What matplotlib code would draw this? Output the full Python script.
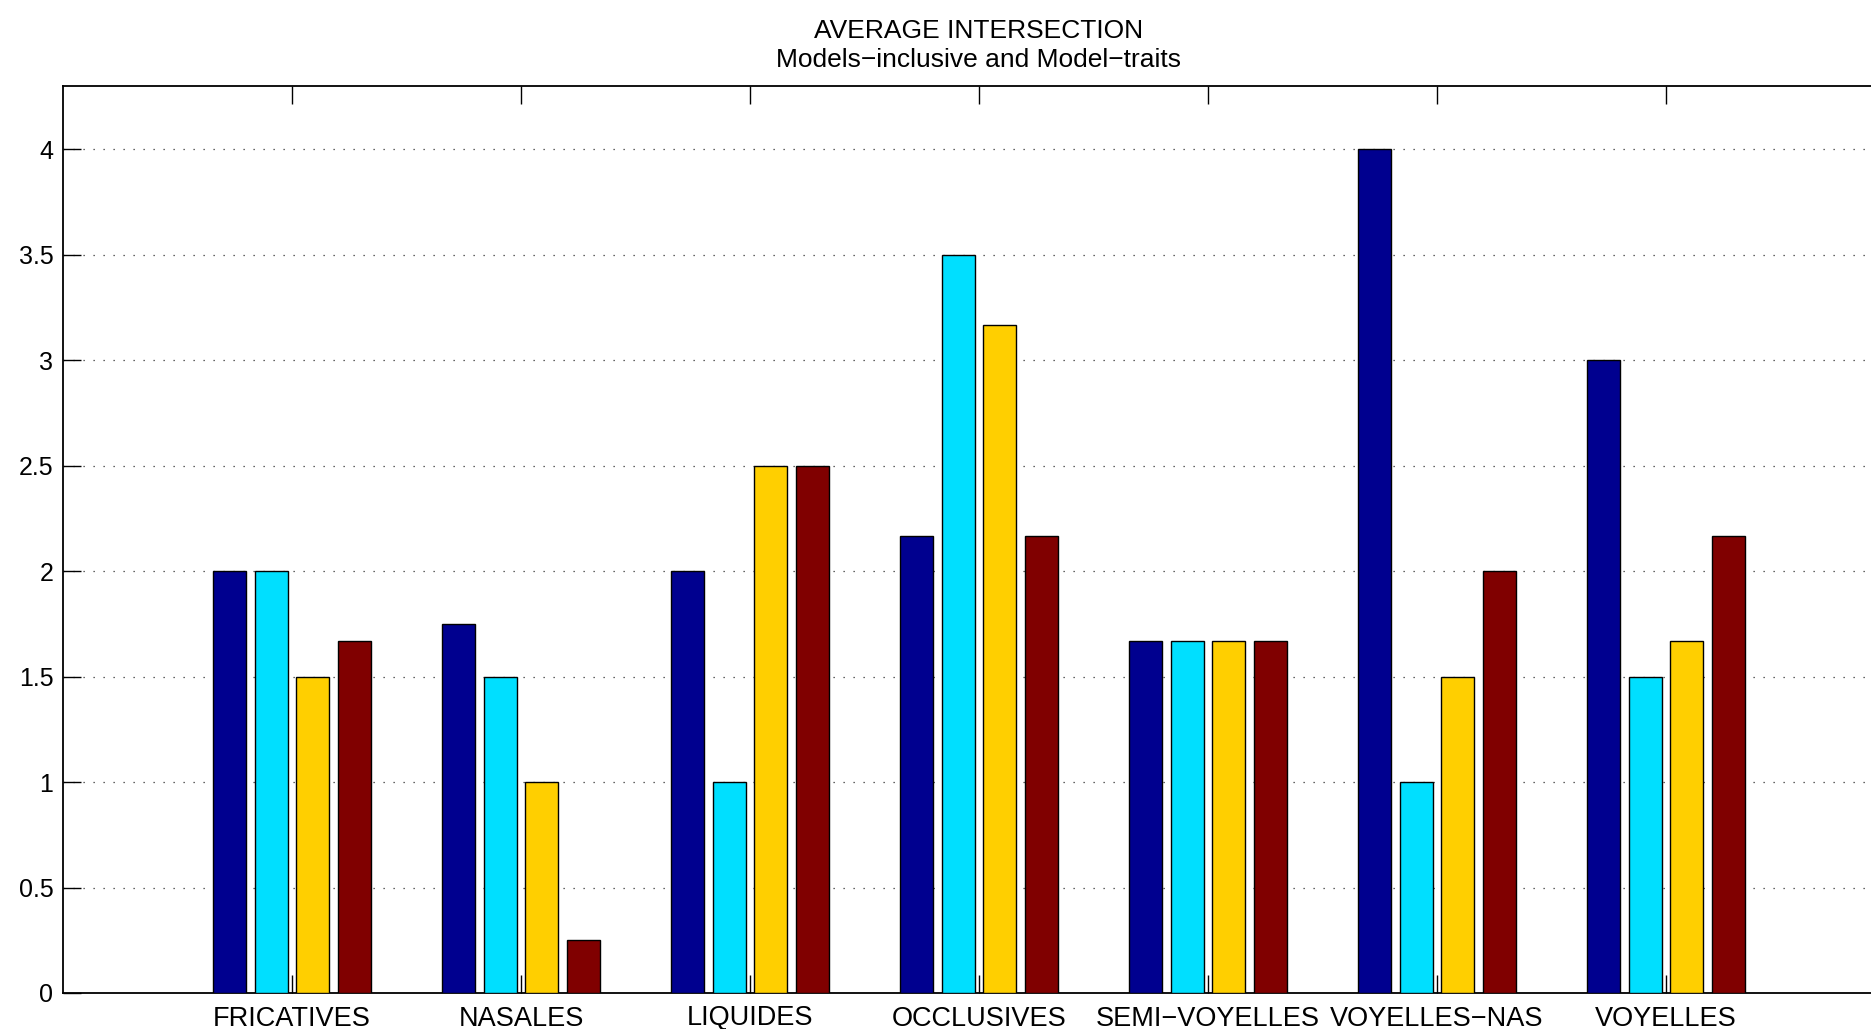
import numpy as np
import matplotlib
matplotlib.use("Agg")
import matplotlib.pyplot as plt

plt.rcParams['font.family'] = ['Liberation Sans', 'DejaVu Sans']

categories = ["FRICATIVES", "NASALES", "LIQUIDES", "OCCLUSIVES",
              "SEMI\u2212VOYELLES", "VOYELLES\u2212NAS", "VOYELLES"]
series_1 = [2.0, 1.75, 2.0, 2.1667, 1.6667, 4.0, 3.0]
series_2 = [2.0, 1.5, 1.0, 3.5, 1.6667, 1.0, 1.5]
series_3 = [1.5, 1.0, 2.5, 3.1667, 1.6667, 1.5, 1.6667]
series_4 = [1.6667, 0.25, 2.5, 2.1667, 1.6667, 2.0, 2.1667]
yticks = [0, 0.5, 1, 1.5, 2, 2.5, 3, 3.5, 4]
ytick_labels = ["0", "0.5", "1", "1.5", "2", "2.5", "3", "3.5", "4"]

colors = [(0.0, 0.0, 0.5625), (0.0, 0.875, 1.0), (1.0, 0.8125, 0.0), (0.5, 0.0, 0.0)]

fig = plt.figure(figsize=(18.71, 10.29), dpi=100)
ax = fig.add_axes([63 / 1871, 1 - 993 / 1029, 1832 / 1871, (993 - 86) / 1029])

x = np.arange(1, len(categories) + 1)
series = [series_1, series_2, series_3, series_4]
n = len(series)
group_width = min(0.8, n / (n + 1.5))
pitch = group_width / n
bar_w = 0.8 * pitch
for i, (vals, c) in enumerate(zip(series, colors)):
    offs = (i - (n - 1) / 2) * pitch
    ax.bar(x + offs, vals, width=bar_w, color=c, edgecolor='black',
           linewidth=1.0, zorder=3)

ax.set_xlim(0, 8)
ax.set_ylim(0, 4.3)
ax.set_xticks(x)
ax.set_xticklabels(categories, fontsize=19.5)
ax.set_yticks(yticks)
ax.set_yticklabels(ytick_labels, fontsize=18)

ax.yaxis.grid(True, linestyle=(0, (1, 7)), color='#333333', linewidth=0.9, zorder=0)
ax.tick_params(axis='x', direction='in', length=13, width=1.0, top=True,
               bottom=True, pad=9)
ax.tick_params(axis='y', direction='in', length=13, width=1.0, left=True,
               right=False, pad=7)
for s in ax.spines.values():
    s.set_linewidth(1.3)

ax.set_title("AVERAGE INTERSECTION\nModels\u2212inclusive and Model\u2212traits",
             fontsize=19, pad=14, linespacing=1.25)

fig.savefig("out.png", dpi=100)
